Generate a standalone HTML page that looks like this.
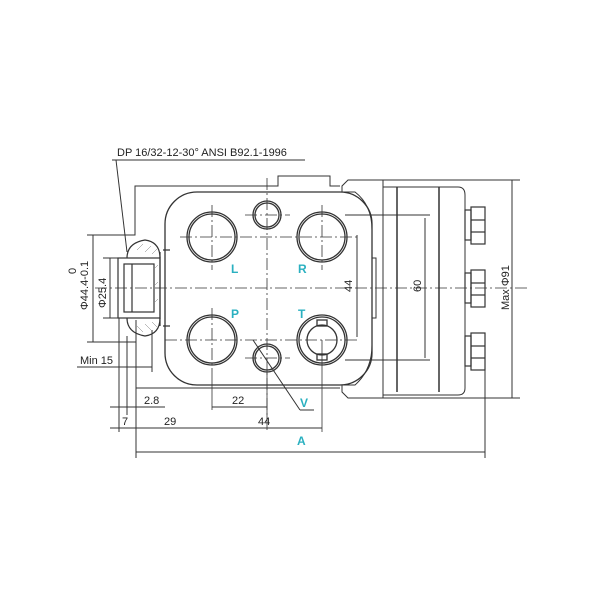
<!DOCTYPE html>
<html><head><style>body{margin:0;background:#fff}svg{display:block}text{font-family:"Liberation Sans",sans-serif;font-size:11px;fill:#222;stroke:none}.c{fill:#2ab0c0;font-weight:bold;font-size:12px}</style></head><body>
<svg width="600" height="600" viewBox="0 0 600 600" fill="none" stroke="#333" stroke-width="1">
<rect width="600" height="600" fill="#fff" stroke="none"/>
<text x="117" y="156">DP 16/32-12-30° ANSI B92.1-1996</text>
<line x1="112" y1="160" x2="305" y2="160"/>
<line x1="116" y1="160" x2="127" y2="252"/>
<path d="M87 235H135V186H278V176H330V186H340"/>
<path d="M136 388H340"/>
<path d="M136 320V388"/>
<path d="M348 180H383V398H348L342 392V385H355Q372 370 372 345V318H376V258H372V230Q372 205 355 192H342V186Z"/>
<path d="M383 180H520M383 398H520"/>
<path d="M383 187H458Q465 187 465 195V388Q465 395 458 395H383"/>
<line x1="397" y1="187" x2="397" y2="392" stroke-width="1.5"/>
<line x1="439" y1="187" x2="439" y2="392" stroke-width="1.5"/>
<g stroke-width="1.2">
<rect x="465" y="210" width="6" height="30"/><rect x="471" y="207" width="14" height="37"/><line x1="471" y1="220" x2="485" y2="220"/><line x1="471" y1="232" x2="485" y2="232"/>
<rect x="465" y="273" width="6" height="30"/><rect x="471" y="270" width="14" height="37"/><line x1="471" y1="283" x2="485" y2="283"/><line x1="471" y1="295" x2="485" y2="295"/>
<rect x="465" y="336" width="6" height="30"/><rect x="471" y="333" width="14" height="37"/><line x1="471" y1="346" x2="485" y2="346"/><line x1="471" y1="358" x2="485" y2="358"/>
</g>
<rect x="165" y="192" width="207" height="193" rx="32" stroke-width="1.3"/>
<g stroke-width="1.3">
<circle cx="212" cy="237" r="25"/><circle cx="212" cy="237" r="23"/>
<circle cx="322" cy="237" r="25"/><circle cx="322" cy="237" r="23"/>
<circle cx="212" cy="340" r="25"/><circle cx="212" cy="340" r="23"/>
<circle cx="322" cy="340" r="25"/><circle cx="322" cy="340" r="23"/><circle cx="322" cy="340" r="15"/>
<rect x="317" y="320" width="10" height="6"/><rect x="317" y="354" width="10" height="6"/>
<circle cx="267" cy="215" r="14"/><circle cx="267" cy="215" r="12"/>
<circle cx="267" cy="358" r="14"/><circle cx="267" cy="358" r="12"/>
</g>
<g stroke-dasharray="12 3 2 3" stroke-width="0.8">
<line x1="267" y1="178" x2="267" y2="420"/>
<line x1="95" y1="288" x2="530" y2="288"/>
<line x1="180" y1="237" x2="360" y2="237"/>
<line x1="165" y1="340" x2="360" y2="340"/>
<line x1="212" y1="205" x2="212" y2="270"/>
<line x1="212" y1="308" x2="212" y2="372"/>
<line x1="322" y1="205" x2="322" y2="270"/>
<line x1="245" y1="215" x2="290" y2="215"/>
<line x1="245" y1="358" x2="290" y2="358"/>
</g>
<line x1="322" y1="340" x2="322" y2="432" stroke-width="0.8"/>
<line x1="212" y1="372" x2="212" y2="410" stroke-width="0.8"/>
<line x1="267" y1="370" x2="267" y2="430" stroke-width="0.8"/>
<line x1="345" y1="215" x2="430" y2="215"/><line x1="345" y1="360" x2="430" y2="360"/>
<g stroke-width="1.2">
<rect x="118" y="258" width="42" height="60"/>
<rect x="124" y="264" width="30" height="48"/>
<line x1="132" y1="264" x2="132" y2="312"/>
<path d="M127 258Q127 243 145 240Q160 242 160 258"/>
<path d="M127 318Q127 333 145 336Q160 334 160 318"/>
<path d="M160 252V326M163 250H170M163 326H170"/>
</g>
<g stroke-width="0.5" stroke="#777"><path d="M137 250l6-6M145 252l6-6M152 254l5-5M137 326l6 6M145 324l6 6M152 322l5 5M155 268l3-3M155 285l3-3M155 302l3-3"/></g>
<line x1="87" y1="342" x2="136" y2="342"/>
<line x1="93" y1="235" x2="93" y2="342"/>
<line x1="103" y1="258" x2="120" y2="258"/><line x1="103" y1="318" x2="120" y2="318"/>
<line x1="110" y1="258" x2="110" y2="318"/>
<text transform="translate(88 310) rotate(-90)">Φ44.4-0.1</text>
<text transform="translate(76 274) rotate(-90)" font-size="8">0</text>
<text transform="translate(106 308) rotate(-90)">Φ25.4</text>
<text x="80" y="364">Min 15</text>
<line x1="77" y1="367" x2="152" y2="367"/>
<line x1="119" y1="318" x2="119" y2="432"/>
<line x1="127" y1="336" x2="127" y2="415"/>
<line x1="152" y1="330" x2="152" y2="372"/>
<line x1="136" y1="388" x2="136" y2="458"/>
<line x1="110" y1="407" x2="165" y2="407"/>
<text x="144" y="404">2.8</text>
<line x1="212" y1="407" x2="267" y2="407"/><text x="232" y="404">22</text>
<line x1="110" y1="428" x2="322" y2="428"/>
<text x="122" y="425">7</text><text x="164" y="425">29</text><text x="258" y="425">44</text>
<line x1="136" y1="452" x2="485" y2="452"/>
<line x1="485" y1="370" x2="485" y2="458"/>
<text class="c" x="297" y="445">A</text>
<line x1="253" y1="340" x2="300" y2="410"/><line x1="300" y1="410" x2="314" y2="410"/>
<text class="c" x="300" y="407">V</text>
<text class="c" x="231" y="273">L</text><text class="c" x="298" y="273">R</text>
<text class="c" x="231" y="318">P</text><text class="c" x="298" y="318">T</text>
<line x1="357" y1="235" x2="357" y2="337"/><text transform="translate(352 292) rotate(-90)">44</text>
<line x1="425" y1="218" x2="425" y2="358"/><text transform="translate(421 292) rotate(-90)">60</text>
<line x1="512" y1="180" x2="512" y2="398"/><text transform="translate(509 310) rotate(-90)">Max Φ91</text>
</svg>
</body></html>
